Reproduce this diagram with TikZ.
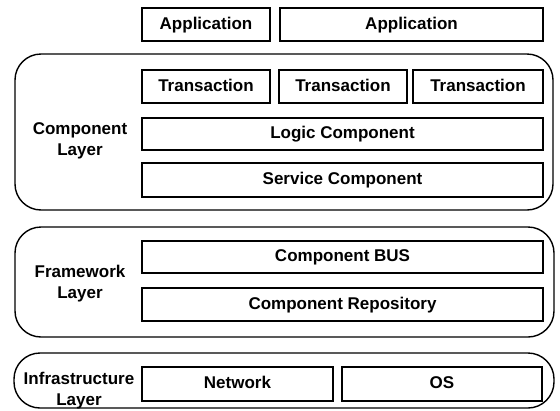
\documentclass[tikz,border=0pt]{standalone}
\usepackage{fontspec}
\setmainfont{Liberation Sans}
\usepackage{tikz}

\tikzset{
  box/.style={draw, line width=2.8pt, inner sep=0pt, text height=12.5pt, text depth=3.5pt,
    font=\bfseries\fontsize{17}{21}\selectfont},
  layer/.style={draw, line width=1.4pt, rounded corners=26pt, inner sep=0pt},
  layerlabel/.style={align=center, inner sep=0pt, font=\bfseries\fontsize{17}{21}\selectfont}
}

\begin{document}
\begin{tikzpicture}[x=1pt,y=-1pt]
\useasboundingbox (0,0) rectangle (560,410);
\node[layer, minimum width=538, minimum height=156] (complayer) at (284,132) {};
\node[layer, minimum width=539, minimum height=110] (fwlayer) at (284.5,282) {};
\node[layer, minimum width=540, minimum height=55] (inflayer) at (284,380.5) {};
\node[box, minimum width=128, minimum height=33] (app1) at (206,24.5) {Application};
\node[box, minimum width=263, minimum height=33] (app2) at (411.5,24.5) {Application};
\node[box, minimum width=128, minimum height=33] (trans1) at (206,86.5) {Transaction};
\node[box, minimum width=128, minimum height=33] (trans2) at (343,86.5) {Transaction};
\node[box, minimum width=130, minimum height=33] (trans3) at (478,86.5) {Transaction};
\node[box, minimum width=401, minimum height=32] (logic) at (342.5,134) {Logic Component};
\node[box, minimum width=401, minimum height=34] (service) at (342.5,180) {Service Component};
\node[box, minimum width=401, minimum height=32] (bus) at (342.5,257) {Component BUS};
\node[box, minimum width=401, minimum height=33] (repo) at (342.5,304.5) {Component Repository};
\node[box, minimum width=191, minimum height=34] (network) at (237.5,384) {Network};
\node[box, minimum width=200, minimum height=34] (os) at (442,384) {OS};
\node[layerlabel] (complbl) at (80,141) {Component\\Layer};
\node[layerlabel] (fwlbl) at (80,284) {Framework\\Layer};
\node[layerlabel] (inflbl) at (79,391) {Infrastructure\\Layer};
\end{tikzpicture}
\end{document}
